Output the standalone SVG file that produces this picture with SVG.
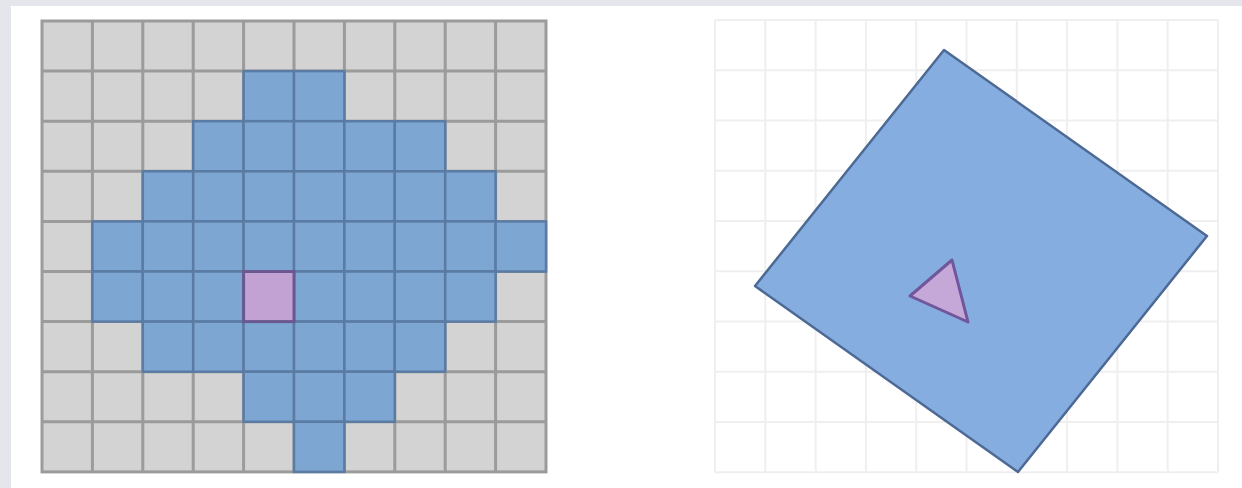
<svg xmlns="http://www.w3.org/2000/svg" width="1242" height="488" viewBox="0 0 1242 488">
<style>
.g{fill:#d3d3d3;stroke:#9b9b9b;stroke-width:3}
.b{fill:#7ea6d2;stroke:#5a7ba3;stroke-width:2.5}
.p{fill:#c2a2d2;stroke:#6a5890;stroke-width:3}
.fl{stroke:#efefef;stroke-width:2;fill:none}
</style>
<rect x="0" y="0" width="1242" height="488" fill="#e4e6ec"/>
<rect x="11" y="6" width="1231" height="482" fill="#ffffff"/>
<g id="left-grid">
<rect class="g" x="42" y="21" width="504" height="450.9"/>
<path d="M92.4 21V471.9M142.8 21V471.9M193.2 21V471.9M243.6 21V471.9M294 21V471.9M344.4 21V471.9M394.8 21V471.9M445.2 21V471.9M495.6 21V471.9M42 71.1H546M42 121.2H546M42 171.3H546M42 221.4H546M42 271.5H546M42 321.6H546M42 371.7H546M42 421.8H546" stroke="#9b9b9b" stroke-width="3" fill="none"/>
<g id="blue-cells">
<rect class="b" x="243.6" y="71.1" width="50.4" height="50.1"/>
<rect class="b" x="294" y="71.1" width="50.4" height="50.1"/>
<rect class="b" x="193.2" y="121.2" width="50.4" height="50.1"/>
<rect class="b" x="243.6" y="121.2" width="50.4" height="50.1"/>
<rect class="b" x="294" y="121.2" width="50.4" height="50.1"/>
<rect class="b" x="344.4" y="121.2" width="50.4" height="50.1"/>
<rect class="b" x="394.8" y="121.2" width="50.4" height="50.1"/>
<rect class="b" x="142.8" y="171.3" width="50.4" height="50.1"/>
<rect class="b" x="193.2" y="171.3" width="50.4" height="50.1"/>
<rect class="b" x="243.6" y="171.3" width="50.4" height="50.1"/>
<rect class="b" x="294" y="171.3" width="50.4" height="50.1"/>
<rect class="b" x="344.4" y="171.3" width="50.4" height="50.1"/>
<rect class="b" x="394.8" y="171.3" width="50.4" height="50.1"/>
<rect class="b" x="445.2" y="171.3" width="50.4" height="50.1"/>
<rect class="b" x="92.4" y="221.4" width="50.4" height="50.1"/>
<rect class="b" x="142.8" y="221.4" width="50.4" height="50.1"/>
<rect class="b" x="193.2" y="221.4" width="50.4" height="50.1"/>
<rect class="b" x="243.6" y="221.4" width="50.4" height="50.1"/>
<rect class="b" x="294" y="221.4" width="50.4" height="50.1"/>
<rect class="b" x="344.4" y="221.4" width="50.4" height="50.1"/>
<rect class="b" x="394.8" y="221.4" width="50.4" height="50.1"/>
<rect class="b" x="445.2" y="221.4" width="50.4" height="50.1"/>
<rect class="b" x="495.6" y="221.4" width="50.4" height="50.1"/>
<rect class="b" x="92.4" y="271.5" width="50.4" height="50.1"/>
<rect class="b" x="142.8" y="271.5" width="50.4" height="50.1"/>
<rect class="b" x="193.2" y="271.5" width="50.4" height="50.1"/>
<rect class="b" x="294" y="271.5" width="50.4" height="50.1"/>
<rect class="b" x="344.4" y="271.5" width="50.4" height="50.1"/>
<rect class="b" x="394.8" y="271.5" width="50.4" height="50.1"/>
<rect class="b" x="445.2" y="271.5" width="50.4" height="50.1"/>
<rect class="b" x="142.8" y="321.6" width="50.4" height="50.1"/>
<rect class="b" x="193.2" y="321.6" width="50.4" height="50.1"/>
<rect class="b" x="243.6" y="321.6" width="50.4" height="50.1"/>
<rect class="b" x="294" y="321.6" width="50.4" height="50.1"/>
<rect class="b" x="344.4" y="321.6" width="50.4" height="50.1"/>
<rect class="b" x="394.8" y="321.6" width="50.4" height="50.1"/>
<rect class="b" x="243.6" y="371.7" width="50.4" height="50.1"/>
<rect class="b" x="294" y="371.7" width="50.4" height="50.1"/>
<rect class="b" x="344.4" y="371.7" width="50.4" height="50.1"/>
<rect class="b" x="294" y="421.8" width="50.4" height="50.1"/>
</g>
<rect id="purple-cell" class="p" x="243.6" y="271.5" width="50.4" height="50.1"/>
</g>
<g id="right-panel">
<path class="fl" d="M715 20V472.25M765.3 20V472.25M815.6 20V472.25M865.9 20V472.25M916.2 20V472.25M966.5 20V472.25M1016.8 20V472.25M1067.1 20V472.25M1117.4 20V472.25M1167.7 20V472.25M1218 20V472.25M715 20H1218M715 70.25H1218M715 120.5H1218M715 170.75H1218M715 221H1218M715 271.25H1218M715 321.5H1218M715 371.75H1218M715 422H1218M715 472.25H1218"/>
<polygon id="rotated-square" points="944,50 1207,236 1018,472 755,286" fill="#86ade0" stroke="#4d6a94" stroke-width="2.5" stroke-linejoin="round"/>
<polygon id="triangle" points="952,260 910,296 968,322" fill="#c6a8d8" stroke="#70569a" stroke-width="3" stroke-linejoin="round"/>
</g>
</svg>
